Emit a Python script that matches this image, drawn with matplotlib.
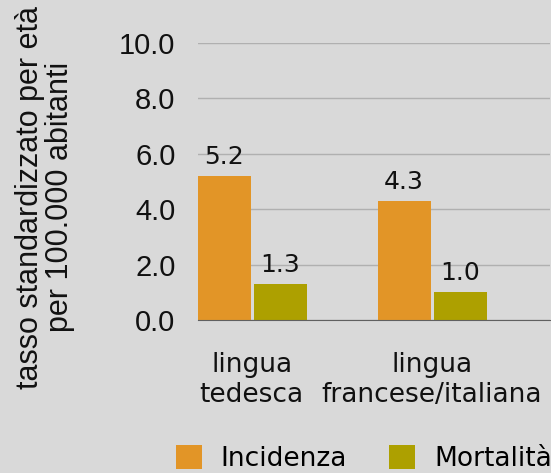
import matplotlib.pyplot as plt
import numpy as np

categories = ['lingua\ntedesca', 'lingua\nfrancese/italiana']
incidenza = [5.2, 4.3]
mortalita = [1.3, 1.0]
yticks = [0, 2, 4, 6, 8, 10]

plt.rcParams['font.family'] = ['DejaVu Sans']
arial = ['Liberation Sans', 'DejaVu Sans']

fig = plt.figure(figsize=(5.51, 4.73), dpi=100, facecolor='#d9d9d9')
ax = fig.add_axes([0.359, 0.3235, 0.640, 0.5855])
ax.set_facecolor('#d9d9d9')

x = np.arange(len(categories))
w = 0.294
b1 = ax.bar(x - 0.153, incidenza, w, color='#e29527', label='Incidenza', zorder=3)
b2 = ax.bar(x + 0.158, mortalita, w, color='#ada000', label='Mortalità', zorder=3)

for bars, vals in [(b1, incidenza), (b2, mortalita)]:
    for r, v in zip(bars, vals):
        ax.text(r.get_x() + r.get_width() / 2, v + 0.25, f'{v:.1f}',
                ha='center', va='bottom', fontsize=18, color='#111111')

ax.set_ylim(0, 10)
ax.set_xlim(-0.3, 1.66)
ax.set_yticks(yticks)
ax.set_yticklabels([f'{t:.1f}' for t in yticks], fontsize=21, color='#111111',
                   family=arial)
ax.set_xticks(x)
ax.set_xticklabels(categories, fontsize=19, color='#111111')
ax.tick_params(axis='y', length=0, pad=16)
ax.tick_params(axis='x', length=0, pad=23)
ax.yaxis.grid(True, color='#b0b0b0', linewidth=1, zorder=0)
for s in ['top', 'right', 'left']:
    ax.spines[s].set_visible(False)
ax.spines['bottom'].set_color('#606060')
ax.spines['bottom'].set_zorder(4)

fig.text(0.081, 0.583, 'tasso standardizzato per età\nper 100.000 abitanti',
         rotation=90, ha='center', va='center', fontsize=22, color='#111111',
         family=arial, linespacing=1.0)

fig.legend(handles=[b1, b2], loc='center', bbox_to_anchor=(0.66, 0.03), ncol=2,
           frameon=False, fontsize=19, handlelength=1.0, handleheight=1.0,
           columnspacing=1.6, handletextpad=0.7)

fig.savefig('out.png', dpi=100, facecolor=fig.get_facecolor())
